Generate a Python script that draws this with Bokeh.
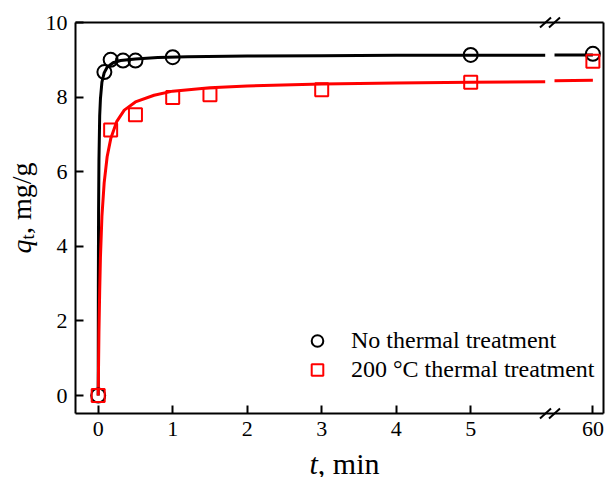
import numpy as np
from bokeh.plotting import figure
from bokeh.models import Range1d, FixedTicker, Label, Arrow, Legend, LegendItem, LinearAxis
from bokeh.embed import file_html
from bokeh.resources import INLINE

# ---------------- data ----------------
t_none = [0, 0.083, 0.167, 0.333, 0.5, 1, 5, 60]
q_none = [0, 8.67, 9.00, 8.98, 8.98, 9.07, 9.13, 9.16]

t_200 = [0, 0.167, 0.5, 1, 1.5, 3, 5, 60]
q_200 = [0, 7.12, 7.53, 7.99, 8.06, 8.20, 8.40, 8.96]

fit_t_none = [0, 0.002, 0.005, 0.01, 0.02, 0.03, 0.05, 0.08, 0.12, 0.2, 0.3, 0.5, 0.8, 1.2, 2, 3, 4, 5, 6, 50, 60]
fit_q_none = [0, 2.9, 4.9, 6.3, 7.5, 7.95, 8.4, 8.65, 8.8, 8.92, 8.98, 9.02, 9.06, 9.08, 9.10, 9.11, 9.12, 9.12, 9.12, 9.13, 9.13]

fit_t_200 = [0, 0.01, 0.02, 0.03, 0.05, 0.08, 0.12, 0.17, 0.25, 0.35, 0.5, 0.75, 1, 1.5, 2, 3, 4, 5, 6, 50, 60]
fit_q_200 = [0, 1.7, 2.8, 3.7, 4.8, 5.7, 6.4, 6.9, 7.35, 7.65, 7.87, 8.05, 8.16, 8.25, 8.30, 8.35, 8.38, 8.40, 8.41, 8.44, 8.45]

x_tick_values = [0, 1, 2, 3, 4, 5, 60]
y_tick_values = [0, 2, 4, 6, 8, 10]

labels = ["No thermal treatment", "200 \u00b0C thermal treatment"]

# ---------------- broken axis mapping ----------------
BREAK_LO, BREAK_HI = 6.0, 50.0
X60 = 6.64
SLOPE = (X60 - 6.125) / (60 - BREAK_HI)


def to_x(t):
    t = np.asarray(t, dtype=float)
    return np.where(t <= BREAK_LO, t, X60 + (t - 60.0) * SLOPE)


FONT = "Liberation Serif"
W, H = 605, 477
X0_PX, PX_X = 97.7, 74.5      # pixel of t=0 and pixels per unit
Y0_PX, PX_Y = 395.0, 37.3     # pixel of q=0 and pixels per unit


def dx_(px):
    return (px - X0_PX) / PX_X


def dy_(py):
    return (Y0_PX - py) / PX_Y


XMIN, XMAX = dx_(75), dx_(602.7)
YMIN, YMAX = dy_(413), 10.0

p = figure(width=W, height=H, output_backend="svg", toolbar_location=None,
           x_range=Range1d(dx_(0), dx_(W)), y_range=Range1d(dy_(H), dy_(0)),
           x_axis_location=None, y_axis_location=None,
           min_border_left=0, min_border_right=0, min_border_top=0, min_border_bottom=0)
p.xgrid.visible = False
p.ygrid.visible = False
p.outline_line_color = None
p.background_fill_color = "white"
p.border_fill_color = "white"

xt = [float(v) for v in to_x(x_tick_values)]

xaxis = LinearAxis(fixed_location=YMIN, bounds=(XMIN, XMAX), ticker=FixedTicker(ticks=xt),
                   major_label_overrides={v: str(t) for v, t in zip(xt, x_tick_values)})
yaxis = LinearAxis(fixed_location=XMIN, bounds=(YMIN, YMAX), ticker=FixedTicker(ticks=y_tick_values))
top = LinearAxis(fixed_location=YMAX, bounds=(XMIN, XMAX), ticker=FixedTicker(ticks=[]),
                 major_label_text_font_size="0px")
right = LinearAxis(fixed_location=XMAX, bounds=(YMIN, YMAX), ticker=FixedTicker(ticks=[]),
                   major_label_text_font_size="0px")

for ax in (xaxis, yaxis, top, right):
    ax.axis_line_width = 2
    ax.axis_line_color = "black"
    ax.major_tick_line_width = 2
    ax.major_tick_line_color = "black"
    ax.major_tick_in = 8
    ax.major_tick_out = 0
    ax.minor_tick_line_color = None
for ax in (xaxis, yaxis):
    ax.major_label_text_font = FONT
    ax.major_label_text_font_size = "22px"
    ax.major_label_text_color = "black"
    ax.major_label_standoff = 8

p.add_layout(xaxis, "below")
p.add_layout(yaxis, "left")
p.add_layout(top, "above")
p.add_layout(right, "right")

# fitted curves (two segments either side of the break)
for ft, fq, col in ((fit_t_none, fit_q_none, "black"), (fit_t_200, fit_q_200, "red")):
    ft = np.asarray(ft, float)
    fq = np.asarray(fq, float)
    lo = ft <= BREAK_LO
    hi = ft >= BREAK_HI
    p.line(to_x(ft[lo]), fq[lo], line_color=col, line_width=3)
    p.line(to_x(ft[hi]), fq[hi], line_color=col, line_width=3)

r_none = p.scatter(to_x(t_none), q_none, marker="circle", size=14, fill_color=None,
                   line_color="black", line_width=2)
r_200 = p.scatter(to_x(t_200), q_200, marker="square", size=13, fill_color=None,
                  line_color="red", line_width=2)

legend = Legend(items=[LegendItem(label=labels[0], renderers=[r_none]),
                       LegendItem(label=labels[1], renderers=[r_200])],
                location=(302, 93), padding=0, margin=0, spacing=0,
                glyph_width=30, glyph_height=29, label_height=20, label_standoff=19,
                label_text_font=FONT, label_text_font_size="24px", label_text_color="black",
                border_line_color=None, background_fill_alpha=0)
p.add_layout(legend)

# axis break marks
sx = 5.5 / PX_X
sy = 5.0 / PX_Y
for yb in (YMIN, YMAX):
    for px in (545, 554):
        xc = dx_(px)
        p.add_layout(Arrow(end=None, x_start=xc - sx, y_start=yb - sy, x_end=xc + sx, y_end=yb + sy,
                           line_color="black", line_width=2))

# axis titles
xl_x, xl_y = dx_(309), dy_(463)
p.add_layout(Label(x=xl_x, y=xl_y, text="t", text_font=FONT, text_font_style="italic",
                   text_font_size="30px", text_color="black",
                   text_baseline="alphabetic", text_align="left"))
p.add_layout(Label(x=xl_x, y=xl_y, x_offset=8.3, text=", min", text_font=FONT,
                   text_font_size="30px", text_color="black",
                   text_baseline="alphabetic", text_align="left"))

yl_x, yl_y = dx_(21), dy_(253)
ang = np.pi / 2
p.add_layout(Label(x=yl_x, y=yl_y, text="q", angle=ang, text_font=FONT, text_font_style="italic",
                   text_font_size="28px", text_color="black",
                   text_baseline="alphabetic", text_align="left"))
p.add_layout(Label(x=yl_x, y=yl_y, x_offset=6, y_offset=14, text="t", angle=ang, text_font=FONT,
                   text_font_size="19px", text_color="black",
                   text_baseline="alphabetic", text_align="left"))
p.add_layout(Label(x=yl_x, y=yl_y, y_offset=19.5, text=", mg/g", angle=ang, text_font=FONT,
                   text_font_size="28px", text_color="black",
                   text_baseline="alphabetic", text_align="left"))

open("out.html", "w").write(file_html(p, INLINE))
